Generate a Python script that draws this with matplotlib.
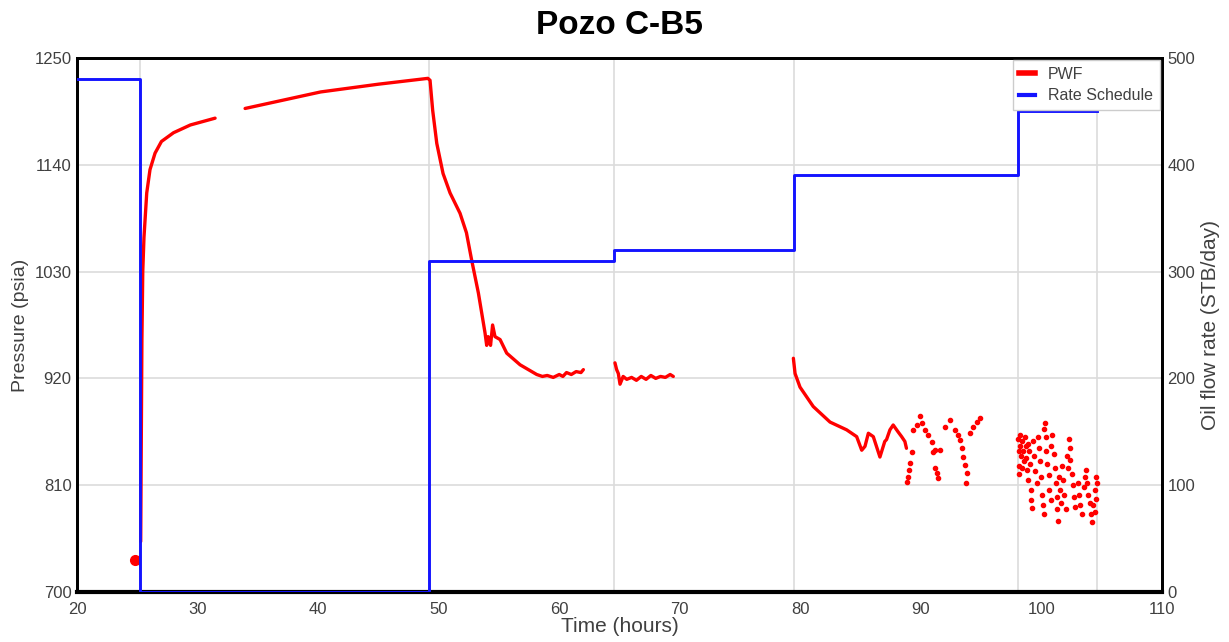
import numpy as np
import matplotlib
matplotlib.use("Agg")
import matplotlib.pyplot as plt
from matplotlib.lines import Line2D

plt.rcParams['font.family'] = ['Liberation Sans', 'DejaVu Sans']

# rate schedule (STB/day), step changes
rate_t = [20, 25.23, 49.2, 64.54, 79.47, 98.05, 104.6]
rate_q = [480, 0, 310, 320, 390, 450, 450]

# PWF, continuous parts (nan = gap)
pwf_t = [25.28, 25.32, 25.38, 25.45, 25.55, 25.64, 25.78, 26.05, 26.47, 27.0, 28.0, 29.4, 31.45, np.nan,
         33.94, 40.2, 45.0, 49.1, 49.28, 49.5, 49.84, 50.36, 50.94, 51.77, 52.3, 52.73, 53.29, 53.84,
         53.98, 54.1, 54.3, 54.47, 54.67, 55.09, 55.64, 56.75, 58.13, 58.6, 59.0, 59.5, 60.0, 60.3,
         60.6, 61.0, 61.4, 61.8, 62.0, np.nan,
         64.62, 64.76, 64.9, 65.04, 65.3, 65.6, 66.0, 66.4, 66.8, 67.2, 67.6, 68.0, 68.4, 68.8, 69.2,
         69.46, np.nan,
         79.42, 79.56, 79.97, 81.07, 82.46, 83.84, 84.67, 85.09, 85.36, 85.64, 86.05, 86.6, 87.0,
         87.15, 87.43, 87.7, 88.1, 88.4, 88.67, 88.8]
pwf_p = [752, 840, 960, 1030, 1065, 1083, 1111, 1135, 1152, 1164, 1173, 1181, 1188, np.nan,
         1198, 1215, 1223, 1229, 1227, 1196, 1162, 1131, 1111, 1090, 1070, 1042, 1008, 967,
         954, 963, 954, 975, 963, 960, 946, 934, 924, 922, 923, 921, 924, 922,
         926, 924, 927, 926, 929, np.nan,
         936, 929, 925, 914, 922, 919, 921, 918, 922, 919, 923, 920, 922, 921, 924,
         922, np.nan,
         940.7, 925, 911, 891, 875, 867, 860, 846, 850, 863.5, 860, 839, 855,
         857, 867, 872, 865, 860, 855, 848]

# PWF, scattered readings
dots_t = [24.8,
          89.23, 89.09, 89.0, 88.9, 88.81, 89.36, 89.64, 89.92, 90.06, 90.33, 90.61, 90.88, 91.16,
          91.58, 91.02, 91.16, 91.44, 91.3, 92.0, 92.4, 92.82, 93.1, 93.23, 93.37, 93.51, 93.65,
          93.79, 93.73, 94.06, 94.34, 94.62, 94.9,
          98.05, 98.1, 98.12, 98.15, 98.2, 98.25, 98.3, 98.35, 98.4, 98.5, 98.55, 98.6, 98.7, 98.75,
          98.8, 98.85, 98.9, 99.0, 99.05, 99.1, 99.15, 99.2, 99.3, 99.4, 99.5, 99.6, 99.7, 99.8,
          99.9, 100.0, 100.05, 100.1, 100.2, 100.25, 100.3, 100.35, 100.4, 100.5, 100.6, 100.65,
          100.75, 100.8, 100.9, 101.0, 101.1, 101.2, 101.25, 101.3, 101.35, 101.45, 101.55, 101.6,
          101.7, 101.8, 101.9, 102.0, 102.1, 102.2, 102.3, 102.35, 102.4, 102.5, 102.6, 102.7,
          102.8, 103.0, 103.1, 103.2, 103.35, 103.5, 103.6, 103.7, 103.8, 103.9, 104.0, 104.1,
          104.2, 104.3, 104.4, 104.5, 104.6, 104.55, 104.45]
dots_p = [733,
          844.6, 832.6, 825.7, 818.8, 813.7, 866.9, 872, 881.3, 873.8, 866.9, 861.8, 854.9, 846.3,
          846.3, 844.6, 827.4, 817.1, 822.3, 870.3, 877.2, 866.9, 861.8, 856.6, 848, 839.4, 830.9,
          822.3, 812, 863.5, 870.3, 875.5, 879,
          858, 845, 830, 822, 850, 862, 840, 828, 855, 845, 835, 860, 850, 838,
          826, 815, 852, 845, 832, 805, 795, 786, 855, 840, 825, 812, 860, 848,
          835, 818, 800, 790, 780, 868, 874, 860, 845, 832, 820, 805,
          795, 850, 862, 842, 828, 812, 798, 785, 773, 818, 805, 792,
          830, 815, 800, 785, 840, 828, 858, 848, 836, 822, 810, 798,
          788, 812, 800, 790, 780, 808, 818, 826, 812, 800, 792, 780,
          772, 790, 805, 818, 812, 796, 782]

fig = plt.figure(figsize=(12.29, 6.42), dpi=100)
ax1 = fig.add_axes([0.0627, 0.0779, 0.8828, 0.8318])
ax2 = ax1.twinx()

grey = '#dcdcdc'
txt = '#404040'
red = '#ff0000'
blue = '#1414ff'

ax1.plot(pwf_t, pwf_p, color=red, lw=2.4, solid_capstyle='round', zorder=3)
ax1.plot(dots_t[1:], dots_p[1:], 'o', color=red, ms=3.0, zorder=3)
ax1.plot(dots_t[:1], dots_p[:1], 'o', color=red, ms=7, zorder=3)
for t in rate_t[1:]:
    ax1.axvline(t, color=grey, lw=1.2, zorder=0)

ax1.set_xlim(20, 110)
ax1.set_ylim(700, 1250)
ax1.set_yticks([700, 810, 920, 1030, 1140, 1250])
ax1.set_xticks(range(20, 111, 10))
ax1.yaxis.grid(True, color=grey, lw=1.2, zorder=0)
ax1.set_axisbelow(True)

ax2.step(rate_t, rate_q, where='post', color=blue, lw=2.1, zorder=4)
ax2.set_ylim(0, 500)
ax2.set_yticks([0, 100, 200, 300, 400, 500])

for ax in (ax1, ax2):
    ax.tick_params(length=0, labelsize=12, labelcolor=txt)
    ax.tick_params(axis='y', pad=4)
    ax.tick_params(axis='x', pad=7)
    for s in ax.spines.values():
        s.set_color('black')
        s.set_linewidth(2)
ax1.spines['bottom'].set_linewidth(3)

ax1.set_xlabel('Time (hours)', fontsize=15, color=txt, labelpad=0)
ax1.set_ylabel('Pressure (psia)', fontsize=14, color=txt, labelpad=4)
ax2.set_ylabel('Oil flow rate (STB/day)', fontsize=15, color=txt, labelpad=4)
ax1.set_title('Pozo C-B5', fontsize=24, fontweight='bold', pad=17)

handles = [Line2D([], [], color=red, lw=4), Line2D([], [], color=blue, lw=3)]
leg = ax2.legend(handles, ['PWF', 'Rate Schedule'], loc='upper right', bbox_to_anchor=(1, 1),
                 fontsize=11.5, handlelength=1.0, borderaxespad=0.15, fancybox=False,
                 framealpha=1, edgecolor='#cccccc', labelcolor=txt, labelspacing=0.4)
leg.set_zorder(10)

fig.savefig('out.png', dpi=100)
